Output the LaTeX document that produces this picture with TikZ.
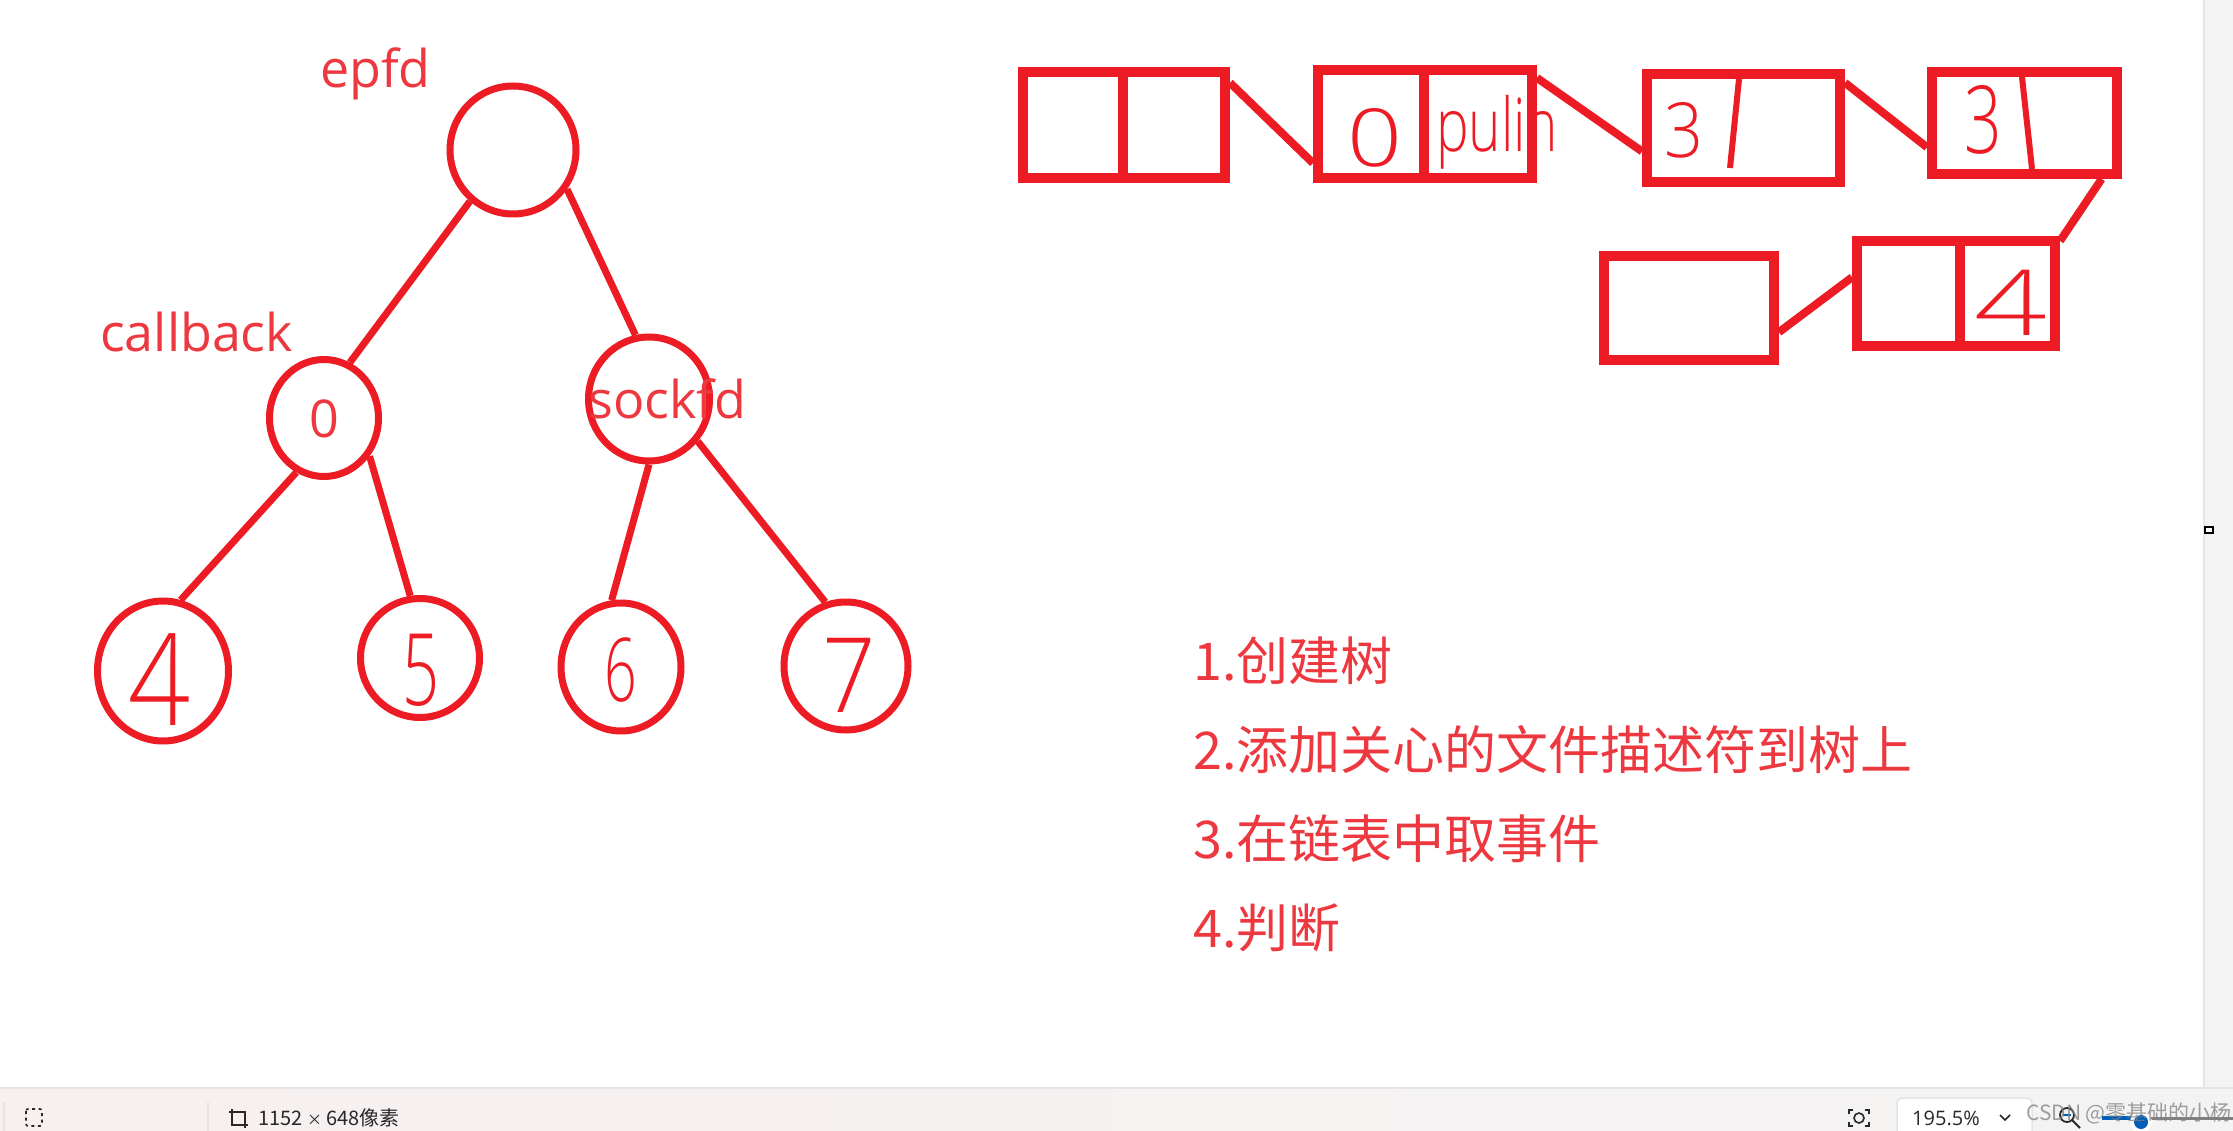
\documentclass[tikz,border=0pt]{standalone}
\usepackage{fontspec}
\usetikzlibrary{shapes.geometric}
\newfontfamily\labfont{Open Sans}
\newfontfamily\cjkfont{Noto Sans CJK SC}
\newfontfamily\handfont{Open Sans Light}
\definecolor{pen}{RGB}{237,28,36}
\definecolor{txtred}{RGB}{238,56,64}
\definecolor{barL}{RGB}{247,240,239}
\definecolor{barR}{RGB}{243,243,243}
\definecolor{sepgray}{RGB}{229,229,229}
\definecolor{icongray}{RGB}{40,40,40}
\definecolor{sliderblue}{RGB}{0,95,184}
\tikzset{
  tnode/.style={ellipse, draw=pen, line width=7pt, inner sep=0pt},
  edge/.style={draw=pen, line width=7pt},
  cell/.style={rectangle, draw=pen, line width=10pt, inner sep=0pt},
  link/.style={draw=pen, line width=8pt},
  lab/.style={text=txtred, font=\labfont\fontsize{52}{60}\selectfont, inner sep=0pt, anchor=base west},
  hand/.style={text=pen, inner sep=0pt},
  item/.style={text=txtred, font=\cjkfont\fontsize{52}{60}\selectfont, inner sep=0pt, anchor=base west},
  bartext/.style={text=icongray, inner sep=0pt},
}
\begin{document}
\begin{tikzpicture}[x=1pt,y=-1pt]
\useasboundingbox (0,0) rectangle (2233,1131);
% canvas background
\fill[white] (0,0) rectangle (2233,1131);
\fill[barR] (2205,0) rectangle (2233,1088);
\draw[sepgray, line width=2pt] (2204,0) -- (2204,1088);
\draw[black, fill=white, line width=1.5pt] (2205,527) rectangle (2213,533);

% ---------- tree ----------
\node[tnode, minimum width=126pt, minimum height=128pt] (root) at (513,150) {};
\node[tnode, minimum width=109pt, minimum height=117pt] (n0) at (324,418) {};
\node[tnode, minimum width=121pt, minimum height=124pt] (ns) at (649,399) {};
\node[tnode, minimum width=131pt, minimum height=140pt] (n4) at (163,671) {};
\node[tnode, minimum width=119pt, minimum height=119pt] (n5) at (420,658) {};
\node[tnode, minimum width=120pt, minimum height=128pt] (n6) at (621,667) {};
\node[tnode, minimum width=124pt, minimum height=128pt] (n7) at (846,666) {};

\draw[edge] (root.230) -- (n0.65);
\draw[edge] (root.324) -- (ns.102);
\draw[edge] (n0.243) -- (n4.76);
\draw[edge] (n0.320) -- (n5.99);
\draw[edge] (ns.270) -- (n6.98);
\draw[edge] (ns.319) -- (n7.108);

\node[lab] (lepfd) at (320,88) {epfd};
\node[lab] (lcb) at (100,352) {callback};
\node[lab] (lsock) at (588,419) {sockfd};
\node[lab, anchor=base] (l0) at (324,438) {0};

\node[hand, font=\handfont\fontsize{128}{128}\selectfont] (h4) at (160,680) {\scalebox{0.85}[1]{4}};
\node[hand, font=\handfont\fontsize{100}{100}\selectfont] (h5) at (421,670) {\scalebox{0.65}[1]{5}};
\node[hand, font=\handfont\fontsize{88}{88}\selectfont] (h6) at (621,670) {\scalebox{0.65}[1]{6}};
\node[hand, font=\handfont\fontsize{104}{104}\selectfont] (h7) at (849,675) {\scalebox{0.9}[1]{7}};

% ---------- linked list ----------
\node[cell, minimum width=100pt, minimum height=106pt] (a1) at (1073,125) {};
\node[cell, minimum width=102pt, minimum height=106pt] (a2) at (1174,125) {};
\node[cell, minimum width=106pt, minimum height=108pt] (b1) at (1371,124) {};
\node[cell, minimum width=108pt, minimum height=108pt] (b2) at (1478,124) {};
\node[cell, minimum width=193pt, minimum height=108pt] (c) at (1743.5,128) {};
\node[cell, minimum width=185pt, minimum height=102pt] (d) at (2024.5,123) {};
\node[cell, minimum width=103pt, minimum height=105pt] (e1) at (1908.5,293.5) {};
\node[cell, minimum width=95pt, minimum height=105pt] (e2) at (2007.5,293.5) {};
\node[cell, minimum width=170pt, minimum height=104pt] (f) at (1689,308) {};

\draw[link] (a2.37) -- (b1.214);
\draw[link] (b2.38) -- (c.193);
\draw[link] (c.24) -- (d.194);
\draw[link] (d.324) -- (e2.45);
\draw[link] (f.345) -- (e1.164);

\coordinate (cs1) at (1739,79);
\coordinate (cs2) at (1730,168);
\draw[pen, line width=6pt] (cs1) -- (cs2);
\coordinate (ds1) at (2022,77);
\coordinate (ds2) at (2032,169);
\draw[pen, line width=6pt] (ds1) -- (ds2);

\node[hand, font=\handfont\fontsize{80}{80}\selectfont] (hb0) at (1375,138) {\scalebox{1.2}[1]{0}};
\node[hand, font=\handfont\fontsize{74}{74}\selectfont, anchor=base west] (hpulin) at (1436,152) {\scalebox{0.74}[1]{pulin}};
\node[hand, font=\handfont\fontsize{76}{76}\selectfont] (hc3) at (1684,130) {\scalebox{0.9}[1]{3}};
\node[hand, font=\handfont\fontsize{94}{94}\selectfont] (hd3) at (1983,120) {\scalebox{0.7}[1]{3}};
\node[hand, font=\handfont\fontsize{91}{91}\selectfont] (he4) at (2011,303) {\scalebox{1.4}[1]{4}};

% ---------- steps ----------
\node[item] (s1) at (1193,680) {1.创建树};
\node[item] (s2) at (1193,769) {2.添加关心的文件描述符到树上};
\node[item] (s3) at (1193,858) {3.在链表中取事件};
\node[item] (s4) at (1193,947) {4.判断};

% ---------- status bar ----------
\shade[left color=barL, right color=barR] (0,1089) rectangle (2233,1131);
\draw[sepgray, line width=2pt] (0,1088) -- (2233,1088);
\draw[sepgray, line width=1.5pt] (4,1102) -- (4,1131);
\draw[sepgray, line width=1.5pt] (208,1102) -- (208,1131);
\draw[icongray, line width=1.6pt, dash pattern=on 3pt off 3.5pt, rounded corners=2pt] (26,1109) rectangle (42,1126);
\draw[icongray, line width=1.6pt] (232,1112) rectangle (245,1125);
\draw[icongray, line width=1.6pt] (229,1112) -- (232,1112) (245,1125) -- (248,1125) (232,1109) -- (232,1112) (245,1125) -- (245,1128);
\node[bartext, font=\cjkfont\fontsize{20}{24}\selectfont, anchor=west] (dims) at (258,1118) {1152 {\fontsize{15}{24}\selectfont ×} 648像素};

\draw[icongray, line width=1.6pt] (1849,1114) -- (1849,1110) -- (1853,1110) (1865,1110) -- (1869,1110) -- (1869,1114)
  (1869,1122) -- (1869,1126) -- (1865,1126) (1853,1126) -- (1849,1126) -- (1849,1122);
\draw[icongray, line width=1.6pt] (1859,1118) circle (5pt);
\draw[sepgray, fill=white, line width=1.5pt, rounded corners=5pt] (1897,1098) rectangle (2032,1145);
\node[bartext, font=\labfont\fontsize{20}{24}\selectfont, anchor=west] (zoomtxt) at (1912,1118) {195.5\%};
\draw[icongray, line width=1.5pt] (2000,1115) -- (2005,1120) -- (2010,1115);
\draw[icongray, line width=1.8pt] (2067,1115) circle (7pt);
\draw[icongray, line width=2pt] (2072,1120) -- (2080,1128);
\draw[sliderblue, line width=1.8pt] (2063,1115) -- (2071,1115);
\draw[gray, line width=3pt] (2142,1118) -- (2233,1118);
\draw[sliderblue, line width=4pt] (2102,1118) -- (2140,1118);
\fill[white] (2141,1122) circle (11pt);
\fill[sliderblue] (2141,1122) circle (7pt);
\node[text=gray, opacity=0.75, font=\cjkfont\fontsize{21}{24}\selectfont, inner sep=0pt, anchor=west] (wm) at (2026,1113) {CSDN @零基础的小杨};
\end{tikzpicture}
\end{document}
